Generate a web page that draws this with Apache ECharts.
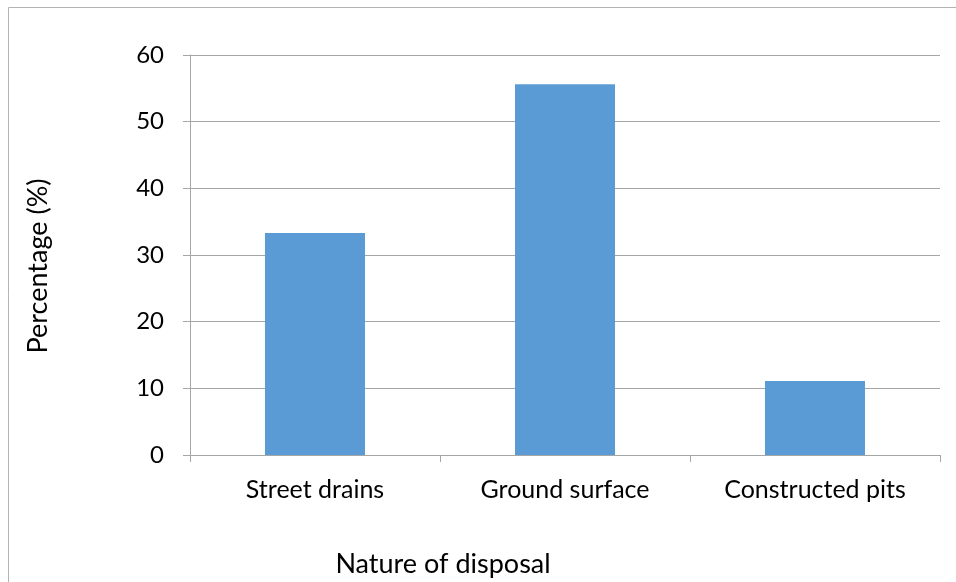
<!DOCTYPE html>
<html>
<head>
<meta charset="utf-8">
<script src="https://cdn.jsdelivr.net/npm/echarts@6/dist/echarts.min.js"></script>
<style>
html,body{margin:0;padding:0;background:#fff;}
#main{width:956px;height:582px;}
</style>
</head>
<body>
<div id="main"></div>
<script>
const categories = ['Street drains', 'Ground surface', 'Constructed pits'];
const values = [33.3, 55.6, 11.1];
const yTicks = [0, 10, 20, 30, 40, 50, 60];
const xTitle = 'Nature of disposal';
const yTitle = 'Percentage (%)';

const FONT = 'Lato';
const chart = echarts.init(document.getElementById('main'), null, {renderer: 'canvas'});
chart.setOption({
  animation: false,
  backgroundColor: '#fff',
  title: {
    text: xTitle,
    left: 443, top: 551,
    textAlign: 'center',
    textStyle: {fontFamily: FONT, fontSize: 27, fontWeight: 'normal', color: '#000'},
    padding: 0
  },
  graphic: [{
    type: 'polyline',
    shape: {points: [[8.5, 582], [8.5, 7.5], [956, 7.5]]},
    style: {stroke: '#b3b3b3', lineWidth: 1, fill: null},
    silent: true
  }],
  grid: {left: 190, right: 16, top: 55, bottom: 127, containLabel: false},
  xAxis: {
    type: 'category',
    data: categories,
    axisLine: {show: true, lineStyle: {color: '#a6a6a6', width: 1}},
    axisTick: {show: true, length: 7, alignWithLabel: false, lineStyle: {color: '#a6a6a6'}},
    axisLabel: {fontFamily: FONT, fontSize: 25, color: '#000', margin: 22},
    splitLine: {show: false}
  },
  yAxis: {
    type: 'value',
    min: yTicks[0], max: yTicks[yTicks.length - 1], interval: 10,
    name: yTitle,
    nameLocation: 'middle',
    nameRotate: 90,
    nameGap: 138,
    nameTextStyle: {fontFamily: FONT, fontSize: 27, color: '#000', padding: [0, 22, 0, 0]},
    axisLine: {show: true, lineStyle: {color: '#a6a6a6', width: 1}},
    axisTick: {show: true, length: 7, lineStyle: {color: '#a6a6a6'}},
    axisLabel: {fontFamily: FONT, fontSize: 24, color: '#000', margin: 26},
    splitLine: {show: true, lineStyle: {color: '#a6a6a6', width: 1}}
  },
  series: [{
    type: 'bar',
    data: values,
    barWidth: '40%',
    itemStyle: {color: '#5b9bd5'}
  }]
});
</script>
</body>
</html>
